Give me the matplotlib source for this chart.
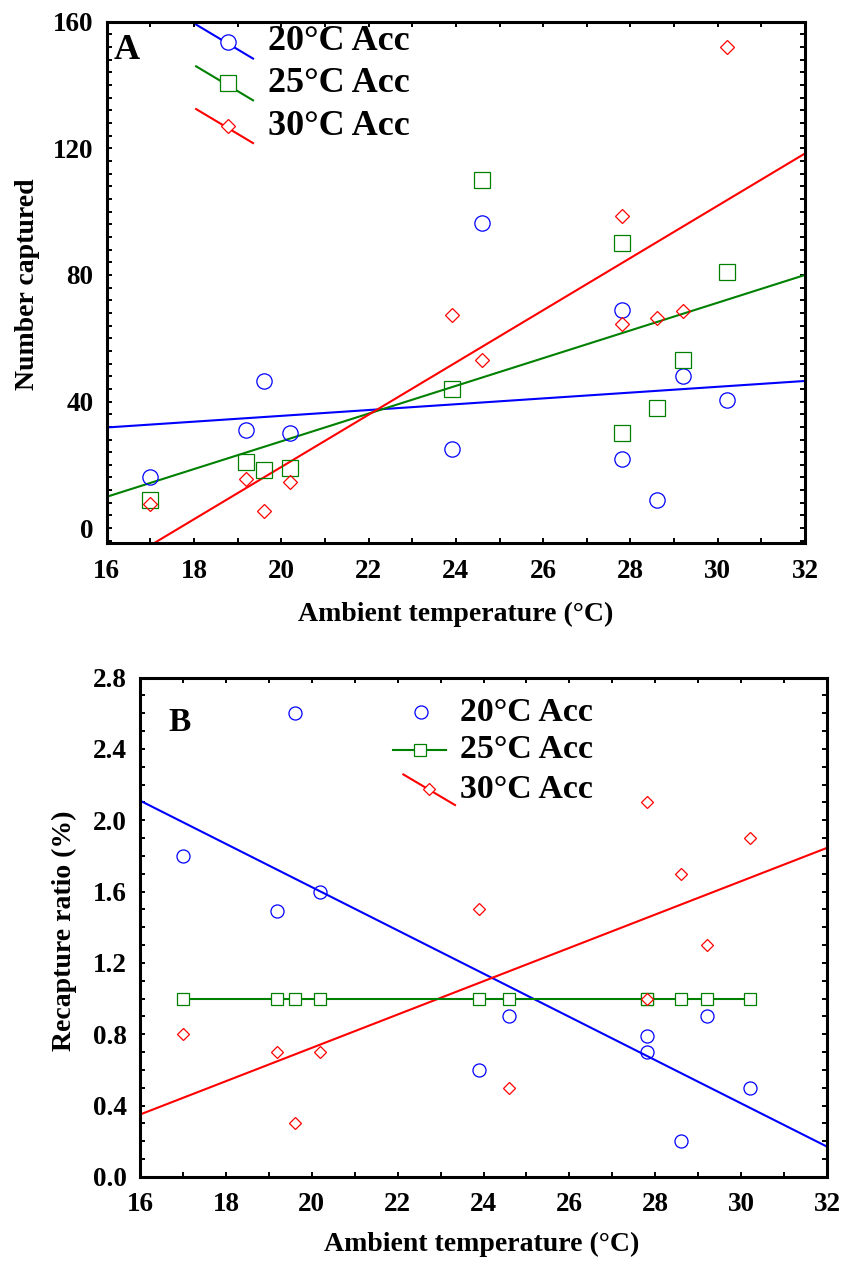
import numpy as np
import matplotlib

matplotlib.use('Agg')
import matplotlib.pyplot as plt
from matplotlib.ticker import MultipleLocator, FormatStrFormatter

plt.rcParams['font.family'] = ['Liberation Serif', 'DejaVu Serif']
plt.rcParams['font.weight'] = 'bold'

# ============================================================
# data
# ============================================================
temps = [17.0, 19.2, 19.6, 20.2, 23.9, 24.6, 27.8, 27.8, 28.6, 29.2, 30.2]
labels = ['20°C Acc', '25°C Acc', '30°C Acc']
colors = ['#0000ff', '#008000', '#ff0000']

# panel A: number captured
cap_20 = [16, 31, 46.5, 30, 25, 96.5, 69, 22, 9, 48, 40.5]
cap_25 = [9, 21, 18.5, 19, 44, 110, 90, 30, 38, 53, 81]
cap_30 = [7.5, 15.5, 5.5, 14.5, 67.5, 53, 98.5, 64.5, 66.5, 68.5, 152]

# panel B: recapture ratio (%)
rec_20 = [1.8, 1.49, 2.6, 1.6, 0.6, 0.9, 0.79, 0.7, 0.2, 0.9, 0.5]
rec_25 = [1.0, 1.0, 1.0, 1.0, 1.0, 1.0, 1.0, 1.0, 1.0, 1.0, 1.0]
rec_30 = [0.8, 0.7, 0.3, 0.7, 1.5, 0.5, 2.1, 1.0, 1.7, 1.3, 1.9]

# fitted lines (value at x = 16 and x = 32)
fit_x = [16, 32]
fitA_20 = [31.8, 46.5]
fitA_25 = [9.9, 80.0]
fitA_30 = [-13.7, 118.4]
fitB_20 = [2.11, 0.17]
fitB_30 = [0.35, 1.845]

# ============================================================
# figure
# ============================================================
fig = plt.figure(figsize=(8.43, 12.65), dpi=100)
axA = fig.add_axes([0.1266, 0.5705, 0.8284, 0.4123])
axB = fig.add_axes([0.1661, 0.0696, 0.8149, 0.3948])

TICK_FS = 19.5
LABEL_FS = 20


def style_axes(ax, ymajor, yminor):
    ax.set_xlim(16, 32)
    ax.xaxis.set_major_locator(MultipleLocator(2))
    ax.xaxis.set_minor_locator(MultipleLocator(1))
    ax.yaxis.set_major_locator(MultipleLocator(ymajor))
    ax.yaxis.set_minor_locator(MultipleLocator(yminor))
    ax.tick_params(which='both', direction='in', top=True, right=True,
                   length=3.5, width=1.4, labelsize=TICK_FS)
    ax.tick_params(axis='x', pad=11)
    ax.tick_params(axis='y', pad=9.5)
    for s in ax.spines.values():
        s.set_linewidth(2.2)


def legend_row(ax, lx, ly, mx, my, marker, color, ms, text, tx, fs):
    if lx is not None:
        ax.plot(lx, ly, color=color, lw=1.5, transform=ax.transAxes, clip_on=False)
    ax.plot([mx], [my], marker=marker, ms=ms, mfc='white', mec=color, mew=0.9,
            transform=ax.transAxes, clip_on=False)
    ax.text(tx, my, text, transform=ax.transAxes, fontsize=fs,
            fontweight='bold', va='center', ha='left')


# ---------------- panel A ----------------
style_axes(axA, 40, 4)
axA.set_ylim(-4.8, 160)

for y, c in zip([fitA_20, fitA_25, fitA_30], colors):
    axA.plot(fit_x, y, color=c, lw=1.5)
axA.plot(temps, cap_20, 'o', ms=11, mfc='none', mec=colors[0], mew=0.9)
axA.plot(temps, cap_25, 's', ms=11, mfc='none', mec=colors[1], mew=0.9)
axA.plot(temps, cap_30, 'D', ms=7, mfc='none', mec=colors[2], mew=0.9)

axA.text(0.01, 0.944, 'A', transform=axA.transAxes, fontsize=26,
         fontweight='bold', va='center', ha='left')
rowsA = [0.962, 0.882, 0.800]
for (yy, m, c, ms, lab) in zip(rowsA, ['o', 's', 'D'], colors, [11, 11, 7], labels):
    legend_row(axA, [0.128, 0.2095], [yy + 0.0326, yy - 0.0326], 0.1735, yy,
               m, c, ms, lab, 0.231, 26)

axA.set_xlabel('Ambient temperature (°C)', fontsize=LABEL_FS, fontweight='bold', va='center')
axA.xaxis.set_label_coords(0.5, -0.1355)
axA.set_ylabel('Number captured', fontsize=LABEL_FS, fontweight='bold', va='center')
axA.yaxis.set_label_coords(-0.114, 0.497)

# ---------------- panel B ----------------
style_axes(axB, 0.4, 0.1)
axB.set_ylim(0, 2.8)
axB.yaxis.set_major_formatter(FormatStrFormatter('%.1f'))

axB.plot(fit_x, fitB_20, color=colors[0], lw=1.5)
axB.plot(fit_x, fitB_30, color=colors[2], lw=1.5)
axB.plot(temps, rec_25, '-', color=colors[1], lw=1.5)
axB.plot(temps, rec_20, 'o', ms=9.4, mfc='none', mec=colors[0], mew=0.9)
axB.plot(temps, rec_25, 's', ms=9, mfc='white', mec=colors[1], mew=0.9)
axB.plot(temps, rec_30, 'D', ms=5.8, mfc='none', mec=colors[2], mew=0.9)

axB.text(0.041, 0.909, 'B', transform=axB.transAxes, fontsize=24,
         fontweight='bold', va='center', ha='left')
legend_row(axB, None, None, 0.4086, 0.930, 'o', colors[0], 9.4, labels[0], 0.4658, 24.4)
legend_row(axB, [0.3687, 0.4450], [0.855, 0.855], 0.4076, 0.855, 's', colors[1], 9,
           labels[1], 0.4658, 24.4)
legend_row(axB, [0.3833, 0.4585], [0.806, 0.7447], 0.4211, 0.7768, 'D', colors[2], 5.8,
           labels[2], 0.4658, 24.4)

axB.set_xlabel('Ambient temperature (°C)', fontsize=LABEL_FS, fontweight='bold', va='center')
axB.xaxis.set_label_coords(0.498, -0.136)
axB.set_ylabel('Recapture ratio (%)', fontsize=LABEL_FS, fontweight='bold', va='center')
axB.yaxis.set_label_coords(-0.11, 0.4925)

plt.savefig('out.png', dpi=100)
